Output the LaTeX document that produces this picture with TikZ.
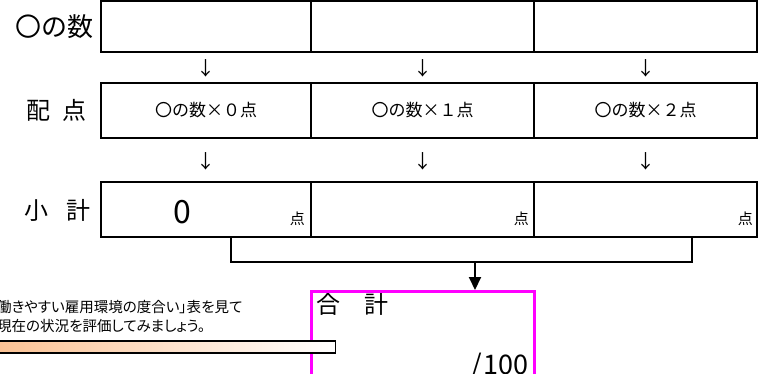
\documentclass[tikz,border=0pt]{standalone}
\usepackage{fontspec}
\setmainfont{Noto Sans CJK JP}
\newfontfamily\jpprop[RawFeature=+palt]{Noto Sans CJK JP}
\usetikzlibrary{arrows.meta, calc, positioning}
\definecolor{barpeach}{RGB}{250,192,145}
\definecolor{totalmag}{RGB}{255,0,255}
\tikzset{/Table/cell/.style={
	shape=rectangle, draw=black, line width=2pt, inner sep=0, minimum height=55pt
}}

\begin{document}
\begin{tikzpicture}[x=1pt, y=-1pt]
\useasboundingbox (0,0) rectangle (769,373);
\clip (0,0) rectangle (769,373);
{%\footnotesize
\node[/Table/cell, minimum width=210pt, minimum height=51pt] (cnta) at (206,26.5) {};
\node[/Table/cell, minimum width=223pt, minimum height=51pt] (cntb) at (422.5,26.5) {};
\node[/Table/cell, minimum width=223pt, minimum height=51pt] (cntc) at (645.5,26.5) {};
}
{\fontsize{17}{17}\selectfont
\node[/Table/cell, minimum width=210pt] (pta) at (206,110.5) {〇の数×０点};
\node[/Table/cell, minimum width=223pt] (ptb) at (422.5,110.5) {〇の数×１点};
\node[/Table/cell, minimum width=223pt] (ptc) at (645.5,110.5) {〇の数×２点};
}
\node[/Table/cell, minimum width=210pt] (suba) at (206,209.5) {};
\node[/Table/cell, minimum width=223pt] (subb) at (422.5,209.5) {};
\node[/Table/cell, minimum width=223pt] (subc) at (645.5,209.5) {};

{\fontsize{26}{26}\selectfont
\node[anchor=east, inner sep=0] (lcnt) at (94,27) {〇の数};
}
{\fontsize{24}{24}\selectfont
\node[anchor=east, inner sep=0] (lpt) at (87,110) {配\hspace{12pt}点};
\node[anchor=east, inner sep=0] (lsub) at (91,210) {小\hspace{18pt}計};
\node[anchor=west, inner sep=0] (ltotal) at (316,304) {合　計};
}
{\fontsize{32}{32}\selectfont
\node[inner sep=0] (zero) at (182,212) {0};
}
{\fontsize{15}{15}\selectfont
\node[anchor=east, inner sep=0] (unita) at ($(suba.east)+(-7,9)$) {点};
\node[anchor=east, inner sep=0] (unitb) at ($(subb.east)+(-6,9)$) {点};
\node[anchor=east, inner sep=0] (unitc) at ($(subc.east)+(-5,9)$) {点};
}
{\fontsize{19}{19}\selectfont
\node[inner sep=0] (dna) at (206,68) {↓};
\node[inner sep=0] (dnb) at (422.5,68) {↓};
\node[inner sep=0] (dnc) at (645.5,68) {↓};
\node[inner sep=0] (dsa) at (206,161) {↓};
\node[inner sep=0] (dsb) at (422.5,161) {↓};
\node[inner sep=0] (dsc) at (645.5,161) {↓};
}

\node[shape=rectangle, draw=totalmag, line width=3pt, minimum width=223pt, minimum height=130pt, anchor=north] (total) at (422.5,290) {};
{\fontsize{27}{27}\selectfont
\node[anchor=base east, inner sep=0] (outof) at (529,374) {/\hspace{2pt}100};
}

\coordinate (brL) at (231,237);
\coordinate (brR) at (692,237);
\coordinate (brM) at (475,262);
\path[draw, line width=2pt] (brL) -- ++(0,25) -| (brR);
\path[draw, line width=2pt, -{Triangle[width=12pt,length=13pt]}] (brM) -- (brM |- total.north);

{\fontsize{14.5}{19}\selectfont\jpprop
\node[anchor=north west, align=left, inner sep=0] (note) at (-3,300) {働きやすい雇用環境の度合い」表を見て\\現在の状況を評価してみましょう。};
}
\node[shape=rectangle, draw=black, line width=1.5pt, left color=barpeach, right color=white, minimum width=346pt, minimum height=12pt, inner sep=0, anchor=east] (bar) at (336,347) {};
\end{tikzpicture}
\end{document}
